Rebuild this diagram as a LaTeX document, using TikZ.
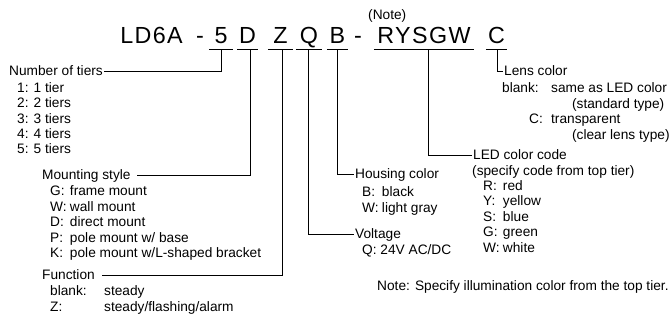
\documentclass[tikz,border=0pt]{standalone}
\usepackage{fontspec}
\setmainfont{Liberation Sans}
\newfontfamily\codefont[LetterSpace=6]{Liberation Sans}
\usepackage{tikz}
\tikzstyle{code} = [font=\codefont\fontsize{23.3}{28}\selectfont,
    inner sep=0pt, text depth=5.7pt, anchor=base]
\tikzstyle{head} = [font=\fontsize{13.7}{15.35}\selectfont,
    inner xsep=1pt, inner ysep=0pt, text height=9.8pt, text depth=0pt]
\tikzstyle{body} = [font=\fontsize{13.7}{15.35}\selectfont,
    inner sep=0pt, anchor=base west]
\tikzstyle{lead} = [draw, line width=0.9pt]

\begin{document}
\begin{tikzpicture}[x=1pt, y=-1pt]
                \useasboundingbox (0,0) rectangle (670,320);
                % model code
                \node [code] at (151.5,43.3) (model) {LD6A};
                \node [code] at (200,43.3) (dasha) {-};
                \node [code, minimum width=24pt] at (221,43.3) (c5) {5};
                \node [code, minimum width=21pt] at (247.5,43.3) (cD) {D};
                \node [code, minimum width=25pt] at (280.5,43.3) (cZ) {Z};
                \node [code, minimum width=26pt] at (309,43.3) (cQ) {Q};
                \node [code, minimum width=21pt] at (337.5,43.3) (cB) {B};
                \node [code] at (358,43.3) (dashb) {-};
                \node [code, minimum width=100pt] at (424,43.3) (cLED) {RYSGW};
                \node [code, minimum width=21pt] at (496.5,43.3) (cC) {C};
                \node [body] at (368,20) (notemark) {(Note)};
                \draw [line width=0.9pt] (c5.south west) -- (c5.south east);
                \draw [line width=0.9pt] (cD.south west) -- (cD.south east);
                \draw [line width=0.9pt] (cZ.south west) -- (cZ.south east);
                \draw [line width=0.9pt] (cQ.south west) -- (cQ.south east);
                \draw [line width=0.9pt] (cB.south west) -- (cB.south east);
                \draw [line width=0.9pt] (cLED.south west) -- (cLED.south east);
                \draw [line width=0.9pt] (cC.south west) -- (cC.south east);
                % legends
                \node [head, anchor=east] at (104,71) (tiers) {Number of tiers};
                \node [body] at (17,92.6) (tierlist) {\begin{tabular}[t]{@{}l@{}}
                    1: 1 tier\\ 2: 2 tiers\\ 3: 3 tiers\\ 4: 4 tiers\\ 5: 5 tiers\end{tabular}};
                \node [head, anchor=west] at (41,175) (mount) {Mounting style};
                \node [body] at (50,196) (mountlist) {\begin{tabular}[t]{@{}l@{\hspace{3.3pt}}l@{}}
                    G: & frame mount\\ W: & wall mount\\ D: & direct mount\\
                    P: & pole mount w/ base\\ K: & pole mount w/L-shaped bracket\end{tabular}};
                \node [head, anchor=west] at (41,275) (func) {Function};
                \node [body] at (50,296) (funclist) {\begin{tabular}[t]{@{}l@{\hspace{17.4pt}}l@{}}
                    blank: & steady\\ Z: & steady/flashing/alarm\end{tabular}};
                \node [head, anchor=west] at (354,174) (housing) {Housing color};
                \node [body] at (362,197) (housinglist) {\begin{tabular}[t]{@{}l@{\hspace{3.3pt}}l@{}}
                    B: & black\\ W: & light gray\end{tabular}};
                \node [head, anchor=west] at (354,234) (volt) {Voltage};
                \node [body] at (362,255) (voltlist) {Q: 24V AC/DC};
                \node [head, anchor=west] at (472,155) (led) {LED color code};
                \node [body] at (472,175.3) (ledlist) {\begin{tabular}[t]{@{\hspace{11pt}}l@{\hspace{3.3pt}}l@{}}
                    \multicolumn{2}{@{}l@{}}{(specify code from top tier)}\\
                    R: & red\\ Y: & yellow\\ S: & blue\\ G: & green\\ W: & white\end{tabular}};
                \node [head, anchor=west] at (503,71) (lens) {Lens color};
                \node [body] at (502,93) (lenslist) {\begin{tabular}[t]{@{}l@{\hspace{12.4pt}}l@{}}
                    blank: & same as LED color\\ & \hspace{21pt}(standard type)\\
                    \hspace{27pt}\rlap{C:} & transparent\\ & \hspace{21pt}(clear lens type)\end{tabular}};
                \node [body] at (377,291) (note) {Note: Specify illumination color from the top tier.};
                % leaders
                \path [lead] (c5.south) |- (tiers.east);
                \path [lead] ([xshift=2.5pt]cD.south) |- ([xshift=5pt]mount.east);
                \path [lead] ([xshift=1.5pt]cZ.south) |- ([xshift=6pt]func.east);
                \path [lead] ([xshift=-1pt]cQ.south) |- (volt.west);
                \path [lead] ([xshift=-0.5pt]cB.south) |- (housing.west);
                \path [lead] ([xshift=4pt]cLED.south) |- (led.west);
                \path [lead] ([xshift=0.5pt]cC.south) |- (lens.west);
            \end{tikzpicture}
\end{document}
